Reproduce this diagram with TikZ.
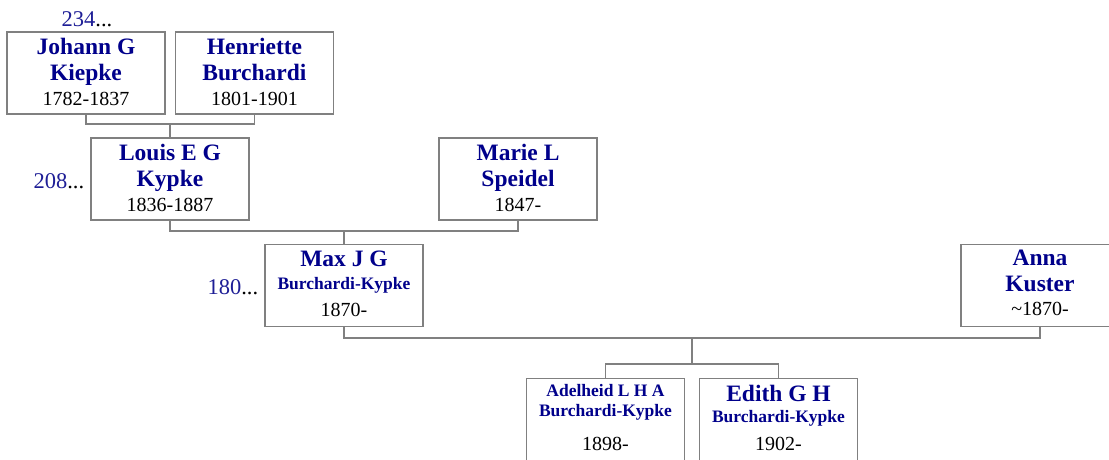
\documentclass[tikz,border=0pt]{standalone}
\usepackage{fontspec}
\setmainfont{Liberation Serif}
\usetikzlibrary{calc}
\definecolor{namec}{RGB}{0,0,139}
\definecolor{numc}{RGB}{30,30,150}
\definecolor{linec}{RGB}{128,128,128}
\tikzset{
  person/.style={draw=linec, line width=1.3pt, fill=white, minimum width=158pt, minimum height=82pt, inner sep=0pt},
  bigname/.style={anchor=base, inner sep=0pt, text=namec, font=\fontsize{23.5}{28}\selectfont\bfseries},
  smallname/.style={anchor=base, inner sep=0pt, text=namec, font=\fontsize{17.5}{21}\selectfont\bfseries},
  years/.style={anchor=base, inner sep=0pt, text=black, font=\fontsize{20}{24}\selectfont},
  ref/.style={anchor=base, inner sep=0pt, font=\fontsize{22.5}{27}\selectfont},
  conn/.style={draw=linec, line width=1.3pt}
}
\begin{document}
\begin{tikzpicture}[x=1pt,y=-1pt]
\clip (0,0) rectangle (1109,459);
\fill[white] (0,0) rectangle (1109,459);

% boxes
\node[person] (johann) at (86,73) {};
\node[person] (henriette) at (254.5,73) {};
\node[person] (louis) at (170,179) {};
\node[person] (marie) at (518,179) {};
\node[person] (max) at (344,285.5) {};
\node[person] (anna) at (1040,285.5) {};
\node[person] (adelheid) at (605.5,419.5) {};
\node[person] (edith) at (778.5,419.5) {};

% connectors
\coordinate (c1) at (170,124);
\draw[conn] (johann.south) |- (c1) -| (henriette.south);
\draw[conn] (c1) -- (louis.north);
\coordinate (c2) at (344,231);
\draw[conn] (louis.south) |- (c2) -| (marie.south);
\draw[conn] (c2) -- (max.north);
\coordinate (c3) at (692,338);
\coordinate (c4) at (692,364);
\draw[conn] (max.south) |- (c3) -| (anna.south);
\draw[conn] (c3) -- (c4);
\draw[conn] (adelheid.north) |- (c4) -| (edith.north);

% texts
\node[bigname] (t1a) at ($(johann.north)+(0,23)$) {Johann G};
\node[bigname] (t1b) at ($(johann.north)+(0,49)$) {Kiepke};
\node[years] (t1c) at ($(johann.north)+(0,74)$) {1782-1837};

\node[bigname] (t2a) at ($(henriette.north)+(0,23)$) {Henriette};
\node[bigname] (t2b) at ($(henriette.north)+(0,49)$) {Burchardi};
\node[years] (t2c) at ($(henriette.north)+(0,74)$) {1801-1901};

\node[bigname] (t3a) at ($(louis.north)+(0,23)$) {Louis E G};
\node[bigname] (t3b) at ($(louis.north)+(0,49)$) {Kypke};
\node[years] (t3c) at ($(louis.north)+(0,74)$) {1836-1887};

\node[bigname] (t4a) at ($(marie.north)+(0,23)$) {Marie L};
\node[bigname] (t4b) at ($(marie.north)+(0,49)$) {Speidel};
\node[years] (t4c) at ($(marie.north)+(0,74)$) {1847-};

\node[bigname] (t5a) at ($(max.north)+(0,23)$) {Max J G};
\node[smallname] (t5b) at ($(max.north)+(0,46)$) {Burchardi-Kypke};
\node[years] (t5c) at ($(max.north)+(0,73)$) {1870-};

\node[bigname] (t6a) at ($(anna.north)+(0,22)$) {Anna};
\node[bigname] (t6b) at ($(anna.north)+(0,48)$) {Kuster};
\node[years] (t6c) at ($(anna.north)+(0,72)$) {\textasciitilde1870-};

\node[smallname] (t7a) at ($(adelheid.north)+(0,19)$) {Adelheid L H A};
\node[smallname] (t7b) at ($(adelheid.north)+(0,39)$) {Burchardi-Kypke};
\node[years] (t7c) at ($(adelheid.north)+(0,73)$) {1898-};

\node[bigname] (t8a) at ($(edith.north)+(0,24)$) {Edith G H};
\node[smallname] (t8b) at ($(edith.north)+(0,45)$) {Burchardi-Kypke};
\node[years] (t8c) at ($(edith.north)+(0,73)$) {1902-};

% ancestor references
\node[ref] (r1) at (87,26) {\textcolor{numc}{234}...};
\node[ref, anchor=base east] (r2) at ($(louis.west)+(-6,9)$) {\textcolor{numc}{208}...};
\node[ref, anchor=base east] (r3) at ($(max.west)+(-6,9)$) {\textcolor{numc}{180}...};
\end{tikzpicture}
\end{document}
